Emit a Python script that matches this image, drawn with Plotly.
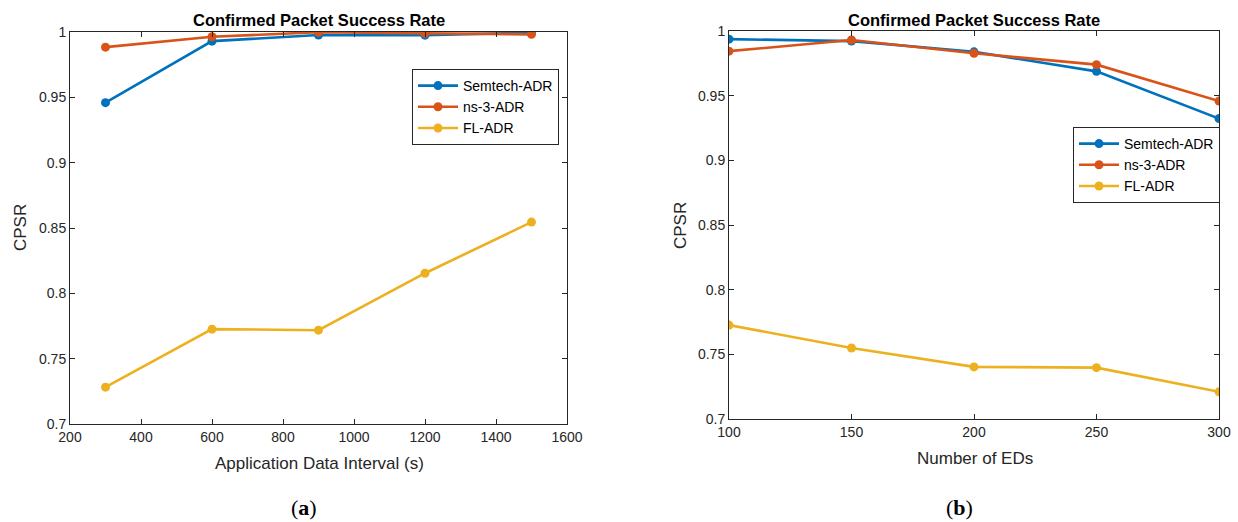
import plotly.graph_objects as go

# ---- data ----
interval_s = [300, 600, 900, 1200, 1500]
semtech_a = [0.9459, 0.9930, 0.9977, 0.9976, 0.9995]
ns3_a = [0.9884, 0.9964, 0.9998, 0.9990, 0.9982]
fl_a = [0.7282, 0.7726, 0.7718, 0.8154, 0.8545]

num_eds = [100, 150, 200, 250, 300]
semtech_b = [0.9937, 0.9922, 0.9839, 0.9688, 0.9323]
ns3_b = [0.9844, 0.9930, 0.9828, 0.9740, 0.9458]
fl_b = [0.7726, 0.7549, 0.7403, 0.7397, 0.7210]

series_names = ["Semtech-ADR", "ns-3-ADR", "FL-ADR"]
colors = ["#0072BD", "#D95319", "#EDB120"]

y_ticks = [0.7, 0.75, 0.8, 0.85, 0.9, 0.95, 1.0]
y_ticktext = ["0.7", "0.75", "0.8", "0.85", "0.9", "0.95", "1"]
x_ticks_a = [200, 400, 600, 800, 1000, 1200, 1400, 1600]
x_ticks_b = [100, 150, 200, 250, 300]

W, H = 1238, 522
FONT = "Liberation Sans, Arial, Helvetica, sans-serif"
AXC = "#262626"

fig = go.Figure()

for name, ys, c in zip(series_names, [semtech_a, ns3_a, fl_a], colors):
    fig.add_trace(go.Scatter(x=interval_s, y=ys, name=name, mode="lines+markers",
                             line=dict(color=c, width=2.6), marker=dict(color=c, size=9),
                             xaxis="x", yaxis="y", legend="legend"))
for name, ys, c in zip(series_names, [semtech_b, ns3_b, fl_b], colors):
    fig.add_trace(go.Scatter(x=num_eds, y=ys, name=name, mode="lines+markers",
                             line=dict(color=c, width=2.6), marker=dict(color=c, size=9),
                             xaxis="x2", yaxis="y2", legend="legend2"))

def px_x(p):
    return p / W

def px_y(p):
    return 1 - p / H

axis_common = dict(showline=True, linecolor=AXC, linewidth=1, mirror="ticks",
                   ticks="inside", ticklen=5, tickcolor=AXC, showgrid=False,
                   zeroline=False, automargin=False,
                   tickfont=dict(family=FONT, size=14, color=AXC))

fig.update_layout(
    width=W, height=H, margin=dict(l=0, r=0, t=0, b=0, autoexpand=False),
    paper_bgcolor="white", plot_bgcolor="white",
    font=dict(family=FONT, size=14, color=AXC),
    xaxis=dict(domain=[px_x(70), px_x(567)], range=[200, 1600], tickvals=x_ticks_a,
               anchor="y", **axis_common),
    yaxis=dict(domain=[px_y(424), px_y(32)], range=[0.7, 1.0], tickvals=y_ticks,
               ticktext=y_ticktext, anchor="x", **axis_common),
    xaxis2=dict(domain=[px_x(729), px_x(1219)], range=[100, 300], tickvals=x_ticks_b,
                anchor="y2", **axis_common),
    yaxis2=dict(domain=[px_y(419), px_y(31)], range=[0.7, 1.0], tickvals=y_ticks,
                ticktext=y_ticktext, anchor="x2", **axis_common),
    legend=dict(x=px_x(412), y=px_y(69), xanchor="left", yanchor="top",
                bgcolor="white", bordercolor=AXC, borderwidth=1,
                font=dict(family=FONT, size=14, color="#000000"),
                itemwidth=40, tracegroupgap=0),
    legend2=dict(x=px_x(1073), y=px_y(127), xanchor="left", yanchor="top",
                 bgcolor="white", bordercolor=AXC, borderwidth=1,
                 font=dict(family=FONT, size=14, color="#000000"),
                 itemwidth=40, tracegroupgap=0),
    showlegend=True,
)

ann = []
def text(x, y, s, size=14, angle=0, family=FONT, color=AXC):
    ann.append(dict(x=px_x(x), y=px_y(y), xref="paper", yref="paper", text=s,
                    showarrow=False, xanchor="center", yanchor="middle",
                    textangle=angle, font=dict(family=family, size=size, color=color)))

text(318.5, 20, "<b>Confirmed Packet Success Rate</b>", size=16.5, color="#000000")
text(974, 20, "<b>Confirmed Packet Success Rate</b>", size=16.5, color="#000000")
text(319, 463, "Application Data Interval (s)", size=17)
text(975, 458, "Number of EDs", size=17)
text(20, 228, "CPSR", size=17, angle=-90)
text(680, 225, "CPSR", size=17, angle=-90)
text(304, 507, "(<b>a</b>)", size=22, family="Liberation Serif, DejaVu Serif, serif", color="#000000")
text(959, 507, "(<b>b</b>)", size=22, family="Liberation Serif, DejaVu Serif, serif", color="#000000")

fig.update_layout(annotations=ann)
fig.write_html("out.html", config={"displayModeBar": False},
               post_script="document.body.style.margin='0px';document.body.style.overflow='hidden';")
